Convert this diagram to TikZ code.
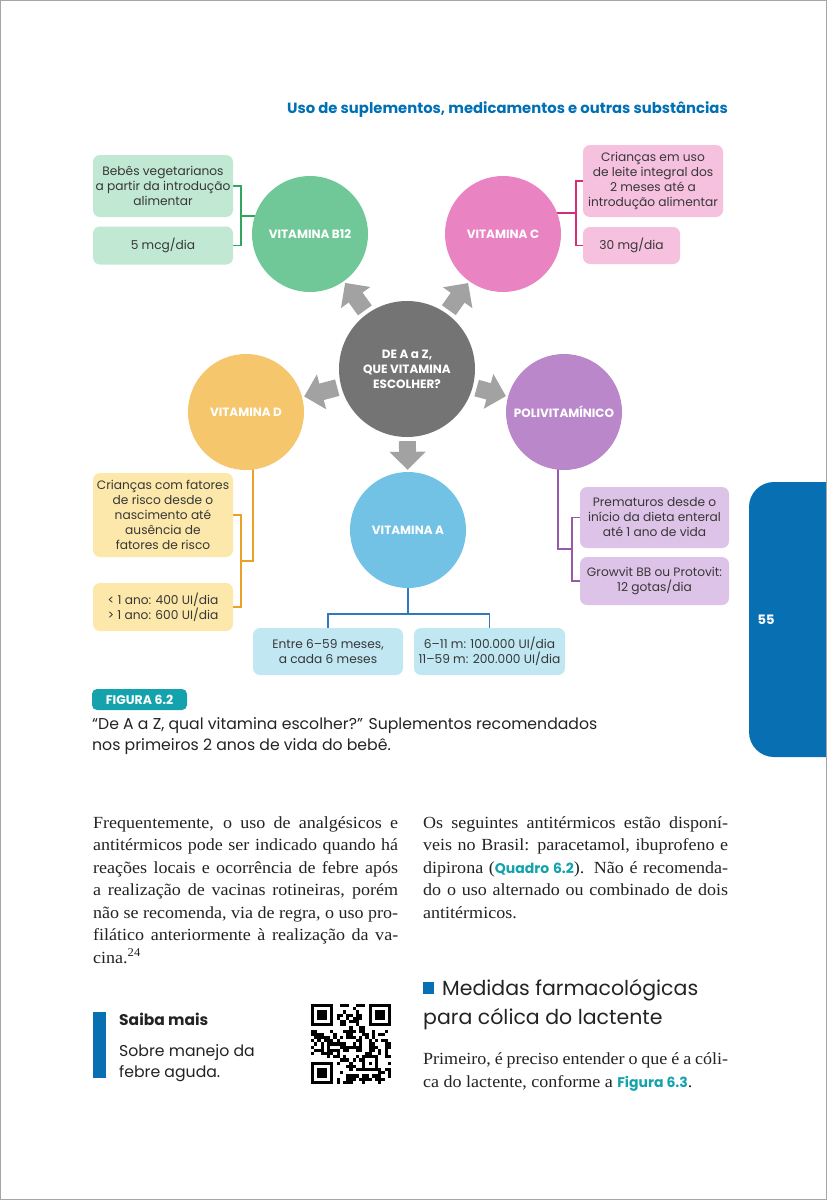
\documentclass[tikz,border=0pt]{standalone}
\usepackage{fontspec}
\setmainfont[FakeStretch=1.06]{Liberation Serif}
\setsansfont{Poppins}
\usetikzlibrary{arrows.meta,calc}
\definecolor{greenc}{RGB}{112,200,152}
\definecolor{greenb}{RGB}{192,232,210}
\definecolor{greenl}{RGB}{50,165,95}
\definecolor{pinkc}{RGB}{233,131,194}
\definecolor{pinkb}{RGB}{246,192,223}
\definecolor{pinkl}{RGB}{215,45,120}
\definecolor{grayc}{RGB}{116,116,116}
\definecolor{arrg}{RGB}{162,162,162}
\definecolor{yellowc}{RGB}{245,198,108}
\definecolor{yellowb}{RGB}{252,232,170}
\definecolor{yellowl}{RGB}{235,160,40}
\definecolor{purplec}{RGB}{186,136,202}
\definecolor{purpleb}{RGB}{222,195,232}
\definecolor{purplel}{RGB}{150,90,170}
\definecolor{bluec}{RGB}{114,194,230}
\definecolor{blueb}{RGB}{192,231,242}
\definecolor{bluel}{RGB}{50,120,190}
\definecolor{hdrblue}{RGB}{0,112,180}
\definecolor{tealc}{RGB}{20,163,172}
\definecolor{tabblue}{RGB}{8,112,178}
\definecolor{txt}{RGB}{35,35,35}
\definecolor{boxtxt}{RGB}{55,55,55}
\pgfdeclarelayer{bg}
\pgfsetlayers{bg,main}
\newcommand{\jl}[1]{\makebox[\linewidth][s]{#1}\par}
\newcommand{\tealsans}[1]{{\sffamily\bfseries\fontsize{14}{16}\selectfont\color{tealc}#1}}
\begin{document}
\begin{tikzpicture}[x=1pt,y=-1pt,
  circ/.style={circle, minimum size=116pt, inner sep=0pt, text=white, align=center,
    font=\sffamily\bfseries\fontsize{12}{15}\selectfont},
  box/.style={rounded corners=7pt, inner sep=0pt, align=center, text=boxtxt,
    font=\sffamily\fontsize{12.2}{15}\selectfont},
  conn/.style={line width=1.8pt},
  bigarrow/.style={draw=arrg, line width=17pt, -{Triangle[width=35pt,length=18pt]},
    shorten <=4pt, shorten >=2pt},
  bodytext/.style={inner sep=0pt, anchor=base west, text=txt,
    font=\rmfamily\fontsize{17}{23}\selectfont},
  sanstext/.style={inner sep=0pt, anchor=base west, text=txt,
    font=\sffamily\fontsize{15.7}{21}\selectfont}
]
\useasboundingbox (0,0) rectangle (827,1200);
\begin{pgfonlayer}{bg}
\fill[white] (0,0) rectangle (827,1200);
\end{pgfonlayer}

% header
\node[anchor=base east, inner sep=0pt, text=hdrblue, font=\sffamily\bfseries\fontsize{14.8}{16}\selectfont] (hdr) at (728,113) {Uso de suplementos, medicamentos e outras substâncias};

% circles
\node[circ, fill=grayc, minimum size=136pt] (g) at (407,369) {DE A a Z,\\QUE VITAMINA\\ESCOLHER?};
\node[circ, fill=greenc] (b12) at (310,234) {VITAMINA B12};
\node[circ, fill=pinkc] (c) at (503,234) {VITAMINA C};
\node[circ, fill=yellowc] (d) at (246,412) {VITAMINA D};
\node[circ, fill=purplec] (p) at (564,412) {POLIVITAMÍNICO};
\node[circ, fill=bluec] (a) at (408,530) {VITAMINA A};

% arrows
\foreach \t in {b12,c,d,p,a} \draw[bigarrow] (g) -- (\t);

% boxes
\node[box, fill=greenb, minimum width=140pt, minimum height=62pt] (gb1) at (163,186) {Bebês vegetarianos\\a partir da introdução\\alimentar};
\node[box, fill=greenb, minimum width=140pt, minimum height=38pt] (gb2) at (163,245.5) {5 mcg/dia};
\node[box, fill=pinkb, minimum width=140pt, minimum height=72pt] (cb1) at (653,181) {Crianças em uso\\de leite integral dos\\2 meses até a\\introdução alimentar};
\node[box, fill=pinkb, minimum width=97pt, minimum height=37pt] (cb2) at (631.5,245.5) {30 mg/dia};
\node[box, fill=yellowb, minimum width=140pt, minimum height=84pt] (db1) at (163,515) {Crianças com fatores\\de risco desde o\\nascimento até\\ausência de\\fatores de risco};
\node[box, fill=yellowb, minimum width=140pt, minimum height=48pt] (db2) at (163,607) {< 1 ano: 400 UI/dia\\> 1 ano: 600 UI/dia};
\node[box, fill=purpleb, minimum width=149pt, minimum height=61pt] (pb1) at (654.5,517.5) {Prematuros desde o\\início da dieta enteral\\até 1 ano de vida};
\node[box, fill=purpleb, minimum width=149pt, minimum height=48pt] (pb2) at (654.5,581) {Growvit BB ou Protovit:\\12 gotas/dia};
\node[box, fill=blueb, minimum width=150pt, minimum height=47pt] (ab1) at (328,651.5) {Entre 6–59 meses,\\a cada 6 meses};
\node[box, fill=blueb, minimum width=151pt, minimum height=47pt] (ab2) at (489.5,651.5) {6–11 m: 100.000 UI/dia\\11–59 m: 200.000 UI/dia};

% connectors
\begin{pgfonlayer}{bg}
\draw[conn, greenl] (gb1.east) -- ++(8,0) |- (gb2.east);
\coordinate (gm) at ($(gb1.east)!0.5!(gb2.east)+(8,0)$);
\draw[conn, greenl] (gm) -- (gm -| b12);
\draw[conn, pinkl] (cb1.west) -- ++(-7,0) |- (cb2.west);
\coordinate (cm) at ($(cb1.west)!0.5!(cb2.west)+(-7,0)$);
\draw[conn, pinkl] (cm) -- (cm -| c);
\draw[conn, yellowl] (db1.east) -- ++(8,0) |- (db2.east);
\coordinate (dm) at ($(db1.east)!0.5!(db2.east)+(8,0)$);
\draw[conn, yellowl] (dm) -- ++(12,0) coordinate (dk) -- (dk |- d);
\draw[conn, purplel] (pb1.west) -- ++(-8,0) |- (pb2.west);
\coordinate (pm) at ($(pb1.west)!0.5!(pb2.west)+(-8,0)$);
\draw[conn, purplel] (pm) -- ++(-14,0) coordinate (pk) -- (pk |- p);
\draw[conn, bluel] (ab1.north) -- ++(0,-14) coordinate (am1) -| (ab2.north);
\draw[conn, bluel] (a) -- (a |- am1);
\end{pgfonlayer}

% figure caption
\node[fill=tealc, rounded corners=5pt, minimum width=95pt, minimum height=21pt, inner sep=0pt, text=white, font=\sffamily\bfseries\fontsize{12.5}{14}\selectfont] (figtag) at (139.5,699.5) {FIGURA 6.2};
\node[sanstext] (cap1) at (92,729) {“De A a Z, qual vitamina escolher?” Suplementos recomendados};
\node[sanstext] (cap2) at (92,750) {nos primeiros 2 anos de vida do bebê.};

% body columns
\node[bodytext] (col1) at (93,828) {\parbox[t]{305pt}{\fontsize{17}{22.5}\selectfont
\jl{Frequentemente, o uso de analgésicos e}
\jl{antitérmicos pode ser indicado quando há}
\jl{reações locais e ocorrência de febre após}
\jl{a realização de vacinas rotineiras, porém}
\jl{não se recomenda, via de regra, o uso pro-}
\jl{filático anteriormente à realização da va-}
cina.\textsuperscript{24}}};
\node[bodytext] (col2) at (423,828) {\parbox[t]{305pt}{\fontsize{17}{22.5}\selectfont
\jl{Os seguintes antitérmicos estão disponí-}
\jl{veis no Brasil: paracetamol, ibuprofeno e}
\jl{dipirona (\tealsans{Quadro 6.2}). Não é recomenda-}
\jl{do o uso alternado ou combinado de dois}
antitérmicos.}};

% heading
\fill[tabblue] (423,982) rectangle (434,994);
\node[inner sep=0pt, anchor=base west, text=txt, font=\sffamily\fontsize{20.5}{29}\selectfont] (h1) at (442,995) {Medidas farmacológicas};
\node[inner sep=0pt, anchor=base west, text=txt, font=\sffamily\fontsize{20.5}{29}\selectfont] (h2) at (423,1024) {para cólica do lactente};
\node[bodytext] (col3) at (423,1064) {\parbox[t]{305pt}{\fontsize{17}{23.5}\selectfont
\jl{Primeiro, é preciso entender o que é a cóli-}
ca do lactente, conforme a \tealsans{Figura 6.3}.}};

% saiba mais
\fill[tabblue] (93,1012) rectangle (106,1078);
\node[sanstext, font=\sffamily\bfseries\fontsize{15.5}{21}\selectfont] (sm) at (119,1025) {Saiba mais};
\node[sanstext] (sm1) at (119,1056) {Sobre manejo da};
\node[sanstext] (sm2) at (119,1077) {febre aguda.};

% QR code
\begin{scope}[shift={(311,1004)}]
\pgfmathsetseed{12345}
\foreach \i in {0,...,24}{\foreach \j in {0,...,24}{
  \pgfmathrandominteger{\qrv}{0}{1}
  \ifnum\qrv=1 \fill[black] (\i*3.2,\j*3.2) rectangle ++(3.2,3.2);\fi
}}
\foreach \fx/\fy in {0/0,18/0,0/18}{
  \fill[white] ({max(\fx-1,0)*3.2},{max(\fy-1,0)*3.2}) rectangle ++(25.6,25.6);
  \fill[black] (\fx*3.2,\fy*3.2) rectangle ++(22.4,22.4);
  \fill[white] ({(\fx+1)*3.2},{(\fy+1)*3.2}) rectangle ++(16,16);
  \fill[black] ({(\fx+2)*3.2},{(\fy+2)*3.2}) rectangle ++(9.6,9.6);
}
\fill[black] (16*3.2,16*3.2) rectangle ++(16,16);
\fill[white] (17*3.2,17*3.2) rectangle ++(9.6,9.6);
\fill[black] (18*3.2,18*3.2) rectangle ++(3.2,3.2);
\end{scope}

% side tab
\fill[tabblue] (827,482) [rounded corners=25pt] -- (749,482) -- (749,757) [sharp corners] -- (827,757) -- cycle;
\node[inner sep=0pt, text=white, font=\sffamily\bfseries\fontsize{13}{15}\selectfont] (pg) at (766,620) {55};

% page border
\draw[black!35, line width=1pt] (0.5,0.5) rectangle (826.5,1199.5);
\end{tikzpicture}
\end{document}
